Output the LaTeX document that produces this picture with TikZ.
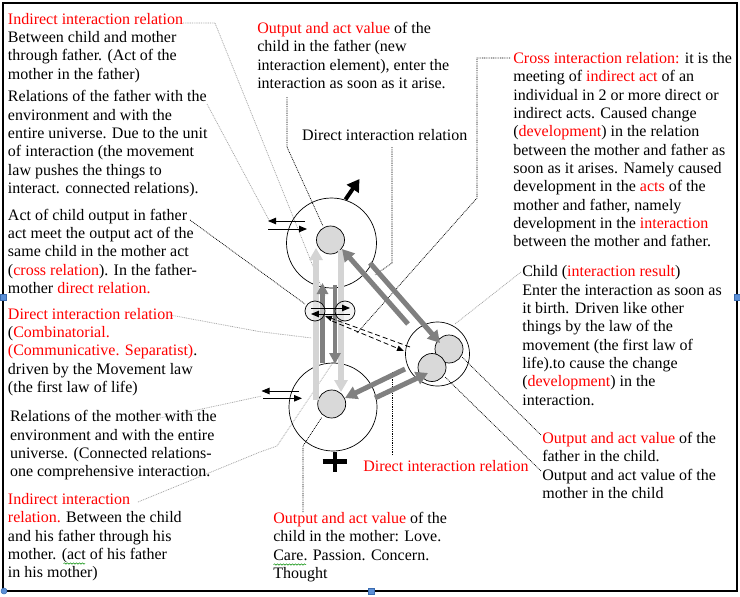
\documentclass[tikz,border=0pt]{standalone}
\usepackage{fontspec}
\setmainfont{Liberation Serif}
\usetikzlibrary{arrows.meta,decorations.pathmorphing}
\definecolor{dgray}{HTML}{808080}
\definecolor{lgray}{HTML}{D4D4D4}
\definecolor{cfill}{HTML}{D9D9D9}
\definecolor{sfill}{HTML}{ECECEC}
\definecolor{lead}{HTML}{A0A0A0}
\definecolor{hblue}{HTML}{5B8FD6}
\definecolor{hborder}{HTML}{3A6BB0}
\newcommand\rd[1]{\textcolor{red}{#1}}
\newcommand\tblock[4]{%
  \foreach \ln [count=\i from 0] in {#4} {
    \node[txt] (#1\i) at (#2,{#3+\i*18.35}) {\ln};
  }%
}
\tikzset{
  txt/.style={inner sep=0pt, outer sep=0pt, anchor=base west, font=\fontsize{16}{18.35}\selectfont},
  ring/.style={draw, circle, line width=0.7pt, inner sep=0pt},
  leadg/.style={draw=lead, line width=0.7pt, dash pattern=on 0.9pt off 0.9pt},
  leadk/.style={draw=black, line width=0.7pt, dash pattern=on 0.9pt off 0.9pt},
  larrow/.style={draw=lgray, line width=6pt, -{Triangle[length=12pt,width=13pt]}},
  darrow/.style={draw=dgray, line width=4.5pt, -{Triangle[length=11pt,width=11pt]}},
  diarrow/.style={draw=dgray, line width=5pt, -{Triangle[length=12pt,width=13pt]}},
  thinarrow/.style={draw=black, line width=0.9pt, -{Triangle[length=8pt,width=6.5pt]}},
  dasharrow/.style={draw=black, line width=0.8pt, dash pattern=on 5pt off 3pt, -{Triangle[length=7pt,width=5.5pt]}},
  handle/.style={fill=hblue, draw=hborder, line width=0.5pt},
}
\begin{document}
\begin{tikzpicture}[x=1pt,y=-1pt]
\useasboundingbox (0,0) rectangle (740,597);
\fill[white] (0,0) rectangle (740,597);
\draw[line width=1.3pt] (3,3) rectangle (737,591);

% ---------- leaders ----------
\coordinate (p1a) at (183,23); \coordinate (p1b) at (215,23); \coordinate (p1c) at (325,296);
\draw[leadg] (p1a) -- (p1b) -- (p1c);
\coordinate (p2a) at (207,104); \coordinate (p2b) at (270,222);
\draw[leadg] (p2a) -- (p2b);
\coordinate (p3a) at (190,220); \coordinate (p3b) at (305,304);
\draw[leadk] (p3a) -- (p3b);
\coordinate (p4a) at (170,315); \coordinate (p4b) at (260,331.7); \coordinate (p4c) at (312,338);
\draw[leadg] (p4a) -- (p4b) -- (p4c);
\coordinate (p5a) at (160,418); \coordinate (p5b) at (262,396);
\draw[leadg] (p5a) -- (p5b);
\coordinate (p6a) at (138,502); \coordinate (p6b) at (260,452); \coordinate (p6c) at (277,446); \coordinate (p6d) at (336,358);
\draw[leadg] (p6a) -- (p6b) -- (p6c) -- (p6d);
\coordinate (p7a) at (287,97); \coordinate (p7b) at (287,147); \coordinate (p7c) at (323,226);
\draw[leadk] (p7a) -- (p7b) -- (p7c);
\coordinate (p8a) at (392,147); \coordinate (p8b) at (392,263); \coordinate (p8c) at (375,275);
\draw[leadk] (p8a) -- (p8b) -- (p8c);
\coordinate (p9a) at (510,58); \coordinate (p9b) at (477,58); \coordinate (p9c) at (477,198); \coordinate (p9d) at (357,333);
\draw[leadk] (p9a) -- (p9b) -- (p9c) -- (p9d);
\coordinate (p10a) at (521,272); \coordinate (p10b) at (455,324);
\draw[leadg] (p10a) -- (p10b);
\coordinate (p11a) at (541,435); \coordinate (p11b) at (462,357);
\draw[leadk] (p11a) -- (p11b);
\coordinate (p12a) at (541,471); \coordinate (p12b) at (445,377);
\draw[leadk] (p12a) -- (p12b);
\coordinate (p13a) at (392,455); \coordinate (p13b) at (392,372);
\draw[leadk] (p13a) -- (p13b);
\coordinate (p14a) at (303,512); \coordinate (p14b) at (303,446); \coordinate (p14c) at (322,417);
\draw[leadk] (p14a) -- (p14b) -- (p14c);

% ---------- circles ----------
\node[ring, minimum size=90pt] (fo) at (331.5,243) {};
\node[ring, fill=cfill, minimum size=28pt] (fi) at (330.5,240) {};
\node[ring, minimum size=88pt] (mo) at (333,407) {};
\node[ring, fill=cfill, minimum size=28pt] (mi) at (331.7,404) {};
\node[ring, minimum size=64pt] (co) at (437.5,354) {};
\node[ring, fill=cfill, minimum size=28pt] (c1) at (449,349) {};
\node[ring, fill=cfill, minimum size=28pt] (c2) at (432,367.5) {};

% ---------- vertical arrows ----------
\coordinate (v1a) at (316,400); \coordinate (v1b) at (316,248);
\coordinate (v2a) at (341,250); \coordinate (v2b) at (341,392);
\coordinate (v3a) at (322.5,363); \coordinate (v3b) at (322.5,283);
\coordinate (v4a) at (335,285); \coordinate (v4b) at (335,364);
\draw[larrow] (v1a) -- (v1b);
\draw[larrow] (v2a) -- (v2b);
\draw[darrow] (v3a) -- (v3b);
\draw[darrow] (v4a) -- (v4b);

% ---------- small circles ----------
\node[ring, fill=sfill, fill opacity=0.6, minimum size=20pt] (s1) at (315,311) {};
\node[ring, fill=sfill, fill opacity=0.6, minimum size=20pt] (s2) at (345,311) {};
\coordinate (sa) at (311,308); \coordinate (sb) at (350,308);
\coordinate (sc) at (350,314); \coordinate (sd) at (311,314);
\draw[thinarrow] (sa) -- (sb);
\draw[thinarrow] (sc) -- (sd);

% ---------- diagonal arrows ----------
\coordinate (da1) at (408,324); \coordinate (da2) at (342,249);
\coordinate (db1) at (370,263); \coordinate (db2) at (440,343);
\coordinate (dc1) at (405,369); \coordinate (dc2) at (345,398);
\coordinate (dd1) at (375,398); \coordinate (dd2) at (428,373);
\draw[diarrow] (da1) -- (da2);
\draw[diarrow] (db1) -- (db2);
\draw[diarrow] (dc1) -- (dc2);
\draw[diarrow] (dd1) -- (dd2);

% ---------- dashed cross arrows ----------
\coordinate (x1a) at (410,347); \coordinate (x1b) at (325,316);
\coordinate (x2a) at (332,321); \coordinate (x2b) at (404,351);
\draw[dasharrow] (x1a) -- (x1b);
\draw[dasharrow] (x2a) -- (x2b);

% ---------- double arrows father / mother ----------
\coordinate (fa1) at (305,221); \coordinate (fa2) at (268,221);
\coordinate (fa3) at (268,229); \coordinate (fa4) at (307,229);
\draw[thinarrow] (fa1) -- (fa2);
\draw[thinarrow] (fa3) -- (fa4);
\coordinate (ma1) at (299,391); \coordinate (ma2) at (261.5,391);
\coordinate (ma3) at (263,398.3); \coordinate (ma4) at (302,398.3);
\draw[thinarrow] (ma1) -- (ma2);
\draw[thinarrow] (ma3) -- (ma4);

% ---------- black outgoing arrow and plus ----------
\coordinate (ba1) at (345.5,199.5); \coordinate (ba2) at (359.5,179);
\draw[line width=4pt, -{Triangle[length=12pt,width=14pt]}] (ba1) -- (ba2);
\draw[line width=4.7pt] (322.7,461.7) -- (347.3,461.7);
\draw[line width=4.7pt] (335,451.7) -- (335,471.7);

% ---------- texts ----------
\tblock{A}{8}{24}{{\rd{Indirect interaction relation}},{Between child and mother},{through father. (Act of the},{mother in the father)}}
\tblock{B}{8}{101.7}{{Relations of the father with the},{environment and with the},{entire universe. Due to the unit},{of interaction (the movement},{law pushes the things to},{interact. connected relations).}}
\tblock{C}{8}{220}{{Act of child output in father},{act meet the output act of the},{same child in the mother act},{(\rd{cross relation}). In the father-},{mother \rd{direct relation.}}}
\tblock{D}{8}{319}{{\rd{Direct interaction relation}},{(\rd{Combinatorial.}},{\rd{(Communicative. Separatist)}.},{driven by the Movement law},{(the first law of life)}}
\tblock{E}{10}{421.7}{{Relations of the mother with the},{environment and with the entire},{universe. (Connected relations-},{one comprehensive interaction.}}
\tblock{F}{8}{504.3}{{\rd{Indirect interaction}},{\rd{relation.} Between the child},{and his father through his},{mother. (act of his father},{in his mother)}}
\tblock{G}{257.3}{33.3}{{\rd{Output and act value} of the},{child in the father (new},{interaction element), enter the},{interaction as soon as it arise.}}
\node[txt] (dtop) at (302,140) {Direct interaction relation};
\tblock{H}{513.3}{63.3}{{\rd{Cross interaction relation:} it is the},{meeting of \rd{indirect act} of an},{individual in 2 or more direct or},{indirect acts. Caused change},{(\rd{development}) in the relation},{between the mother and father as},{soon as it arises. Namely caused},{development in the \rd{acts} of the},{mother and father, namely},{development in the \rd{interaction}},{between the mother and father.}}
\tblock{I}{522.3}{276.7}{{Child (\rd{interaction result})},{Enter the interaction as soon as},{it birth. Driven like other},{things by the law of the},{movement (the first law of},{life).to cause the change},{(\rd{development}) in the},{interaction.}}
\tblock{J}{542.3}{443.3}{{\rd{Output and act value} of the},{father in the child.},{Output and act value of the},{mother in the child}}
\node[txt, text=red] (dbot) at (363.3,471.7) {Direct interaction relation};
\tblock{K}{273.3}{523.3}{{\rd{Output and act value} of the},{child in the mother: Love.},{Care. Passion. Concern.},{Thought}}

% spell-check underlines
\draw[green!55!black, line width=0.5pt, decorate, decoration={snake, amplitude=0.7pt, segment length=3pt}] (273.5,564.5) -- (306,564.5);
\draw[green!55!black, line width=0.5pt, decorate, decoration={snake, amplitude=0.7pt, segment length=3pt}] (63.5,563.5) -- (85,563.5);

% ---------- selection handles ----------
\draw[handle] (0,294) rectangle (6,300);
\draw[handle] (734,294) rectangle (740,300);
\draw[handle] (368,588.5) rectangle (374,594.5);
\draw[handle] (4,591) circle (3);
\end{tikzpicture}
\end{document}
